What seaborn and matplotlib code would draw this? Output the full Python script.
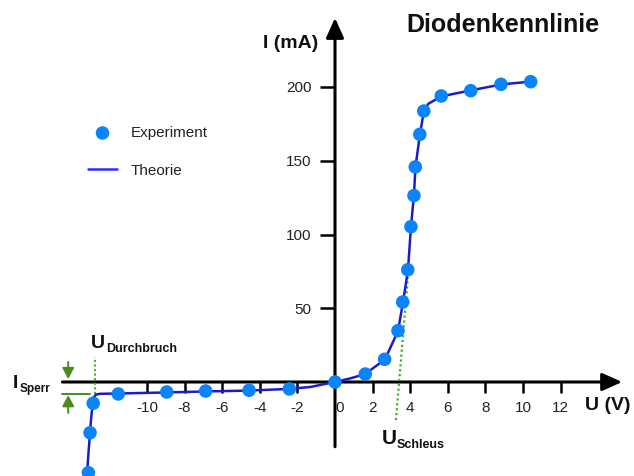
import matplotlib
matplotlib.use("Agg")
import matplotlib.pyplot as plt
import seaborn as sns
import pandas as pd

# ---------------- data ----------------
exp_u = [-13.12, -13.03, -12.86, -11.53, -8.95, -6.88, -4.57, -2.43, 0.0,
         1.61, 2.64, 3.35, 3.60, 3.87, 4.04, 4.20, 4.27, 4.51, 4.72,
         5.65, 7.22, 8.83, 10.41]
exp_i = [-61.5, -34.4, -14.4, -8.1, -6.8, -6.1, -5.6, -4.7, 0.0,
         5.4, 15.4, 34.8, 54.2, 76.1, 105.3, 126.4, 145.8, 167.9, 183.7,
         193.9, 197.5, 201.8, 203.6]

theo_u = [-13.25, -13.14, -13.06, -12.98, -12.90, -12.82, -12.71, -12.50,
          -11.54, -8.99, -6.86, -4.57, -2.45, -1.33, 0.0, 0.80, 1.60, 2.66,
          3.35, 3.62, 3.88, 4.04, 4.20, 4.28, 4.52, 4.73, 4.95, 5.64, 7.18,
          8.83, 10.43]
theo_i = [-75.0, -52.9, -39.3, -25.8, -15.6, -10.2, -8.5, -8.0,
          -7.8, -7.1, -6.4, -5.8, -4.7, -3.4, 0.0, 2.4, 5.4, 15.3,
          34.6, 54.2, 75.9, 105.1, 126.8, 145.8, 168.1, 183.7, 188.5, 193.6, 197.6,
          201.7, 203.7]

xtick_vals = [-10, -8, -6, -4, -2, 2, 4, 6, 8, 10, 12]
xtick_labels = ["-10", "-8", "-6", "-4", "-2", "2", "4", "6", "8", "10", "12"]
ytick_vals = [50, 100, 150, 200]
ytick_labels = ["50", "100", "150", "200"]

u_durchbruch = -12.74
i_sperr = -8.1
schleus_u = [3.24, 3.88]
schleus_i = [-25.8, 71.2]

# ---------------- style ----------------
sns.set_theme(style="white")
plt.rcParams["font.family"] = ["Liberation Sans", "DejaVu Sans"]
plt.rcParams["axes.unicode_minus"] = False

W, H = 634, 476
fig = plt.figure(figsize=(W / 100, H / 100), dpi=100)
ax = fig.add_axes([0, 0, 1, 1])
ax.set_xlim(-335 / 18.8, (W - 335) / 18.8)
ax.set_ylim(-(H - 382) / 1.475, 382 / 1.475)

def fx(px):
    return px / W

def fy(py):
    return 1 - py / H

# curves
sns.lineplot(x=theo_u, y=theo_i, sort=False, estimator=None, color="#1c1cc8",
             lw=1.8, label="Theorie", zorder=3, ax=ax)
df_exp = pd.DataFrame({"U": exp_u, "I": exp_i})
sns.scatterplot(data=df_exp, x="U", y="I", s=95, color="#0a84fb",
                edgecolor="none", linewidth=0, label="Experiment", zorder=4, ax=ax)

# axes at data zero
for s in ["left", "bottom"]:
    ax.spines[s].set_position(("data", 0))
for s in ax.spines.values():
    s.set_visible(False)
ax.set_xlabel("")
ax.set_ylabel("")

ax.annotate("", xy=(15.27, 0), xytext=(-14.5, 0),
            arrowprops=dict(arrowstyle="-|>,head_length=0.6,head_width=0.27",
                            mutation_scale=20, lw=2.2, color="black",
                            shrinkA=0, shrinkB=0), zorder=2)
ax.annotate("", xy=(0, 246.8), xytext=(0, -43.9),
            arrowprops=dict(arrowstyle="-|>,head_length=0.6,head_width=0.27",
                            mutation_scale=20, lw=2.2, color="black",
                            shrinkA=0, shrinkB=0), zorder=2)

ax.set_xticks(xtick_vals, xtick_labels)
ax.set_yticks(ytick_vals, ytick_labels)
ax.set_xticks([0], ["0"], minor=True)
ax.tick_params(axis="x", which="major", direction="out", length=8, width=1.8,
               color="black", pad=6, labelsize=11, labelcolor="#222222")
ax.tick_params(axis="x", which="minor", direction="out", length=0, width=0,
               pad=14, labelsize=11, labelcolor="#222222")
ax.tick_params(axis="y", direction="out", length=11, width=1.8,
               color="black", pad=6, labelsize=11, labelcolor="#222222")
ax.tick_params(axis="both", which="both", bottom=True, left=True)
for lbl in ax.xaxis.get_minorticklabels():
    lbl.set_horizontalalignment("left")

# green annotations
green_dot = "#44b02a"
green = "#4b8b1e"
ax.plot([u_durchbruch, u_durchbruch], [i_sperr, 17.2], ls=(0, (1, 1.2)),
        color=green_dot, lw=1.5, zorder=2)
ax.plot(schleus_u, schleus_i, ls=(0, (1, 1.2)), color=green_dot, lw=1.6, zorder=2)
ax.plot([-14.52, -13.03], [i_sperr, i_sperr], color=green, lw=1.4, zorder=2)
ax.annotate("", xy=(-14.19, 2.0), xytext=(-14.19, 13.6),
            arrowprops=dict(arrowstyle="-|>,head_length=0.6,head_width=0.32",
                            mutation_scale=11, lw=1.4, color=green,
                            shrinkA=0, shrinkB=0))
ax.annotate("", xy=(-14.19, -8.9), xytext=(-14.19, -21.0),
            arrowprops=dict(arrowstyle="-|>,head_length=0.6,head_width=0.32",
                            mutation_scale=11, lw=1.4, color=green,
                            shrinkA=0, shrinkB=0))

# texts
tc = "#111111"
T = ax.transAxes
ax.text(fx(502.5), fy(25), "Diodenkennlinie", transform=T, ha="center", va="center",
        fontsize=18, fontweight="bold", color=tc)
ax.text(fx(318), fy(43), "I (mA)", transform=T, ha="right", va="center",
        fontsize=14, fontweight="bold", color=tc)
ax.text(fx(585), fy(406), "U (V)", transform=T, ha="left", va="center",
        fontsize=14, fontweight="bold", color=tc)
ax.text(fx(91), fy(348), "U", transform=T, ha="left", va="baseline",
        fontsize=14, fontweight="bold", color=tc)
ax.text(fx(106.5), fy(351.7), "Durchbruch", transform=T, ha="left", va="baseline",
        fontsize=9, fontweight="bold", color=tc)
ax.text(fx(381.5), fy(444), "U", transform=T, ha="left", va="baseline",
        fontsize=15, fontweight="bold", color=tc)
ax.text(fx(396.7), fy(448.3), "Schleus", transform=T, ha="left", va="baseline",
        fontsize=9, fontweight="bold", color=tc)
ax.text(fx(13), fy(387.7), "I", transform=T, ha="left", va="baseline",
        fontsize=14, fontweight="bold", color=tc)
ax.text(fx(19.5), fy(392.3), "Sperr", transform=T, ha="left", va="baseline",
        fontsize=8.5, fontweight="bold", color=tc)

# legend
handles, labels = ax.get_legend_handles_labels()
order = [labels.index("Experiment"), labels.index("Theorie")]
leg = ax.legend([handles[i] for i in order], [labels[i] for i in order],
                loc="upper left", bbox_to_anchor=(fx(88), fy(126)),
                frameon=False, fontsize=11, borderaxespad=0, borderpad=0,
                handlelength=1.9, handletextpad=0.9, labelspacing=1.55)
for t in leg.get_texts():
    t.set_color("#222222")
for ln in leg.get_lines():
    ln.set_color("#2a2aff")

fig.savefig("out.png", dpi=100)
